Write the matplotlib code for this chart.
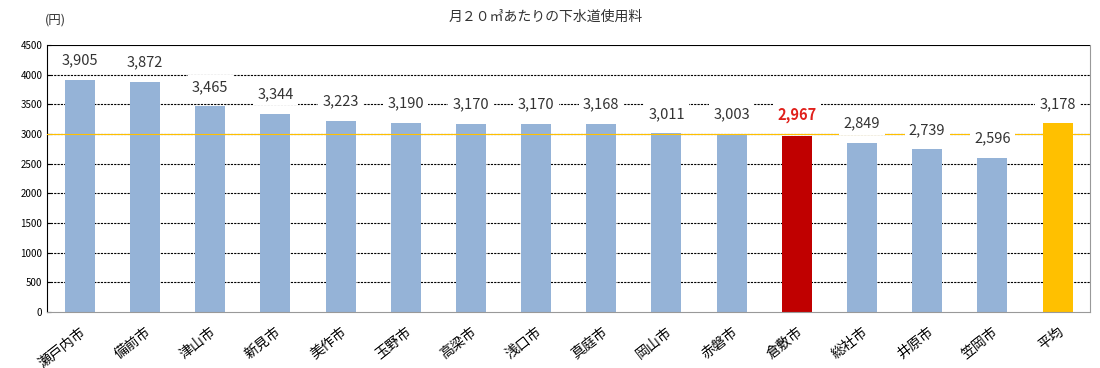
import matplotlib
matplotlib.use("Agg")
import matplotlib.pyplot as plt
from matplotlib.transforms import ScaledTranslation

plt.rcParams['font.family'] = ['Noto Sans CJK JP', 'DejaVu Sans']

cities = ['瀬戸内市', '備前市', '津山市', '新見市', '美作市', '玉野市', '高梁市', '浅口市',
          '真庭市', '岡山市', '赤磐市', '倉敷市', '総社市', '井原市', '笠岡市', '平均']
fees = [3905, 3872, 3465, 3344, 3223, 3190, 3170, 3170, 3168, 3011, 3003, 2967, 2849, 2739, 2596, 3178]
yticks = [0, 500, 1000, 1500, 2000, 2500, 3000, 3500, 4000, 4500]

colors = ['#95B3D7'] * len(cities)
colors[cities.index('倉敷市')] = '#C00000'
colors[cities.index('平均')] = '#FFC000'

fig = plt.figure(figsize=(11, 3.68), dpi=100)
ax = fig.add_axes([0.043, 0.152, 0.948, 0.726])

x = list(range(len(cities)))
ax.bar(x, fees, width=0.46, color=colors, zorder=2)

# dashed gridlines, solid top line
for t in yticks[1:-1]:
    ax.axhline(t, color='black', lw=0.8, ls=(0, (2, 1)), zorder=1)
ax.axhline(4500, color='black', lw=0.8, zorder=1)
ax.axhline(3000, color='#FFC000', lw=0.8, zorder=3)

for i, v in enumerate(fees):
    col = '#E0201B' if cities[i] == '倉敷市' else '#333333'
    fw = 'bold' if cities[i] == '倉敷市' else 'normal'
    ax.annotate(f'{v:,}', (i, v), xytext=(0, 9), textcoords='offset points',
                ha='center', va='bottom', fontsize=10.5, color=col, fontweight=fw,
                bbox=dict(boxstyle='square,pad=0.3', fc='white', ec='none'), zorder=4)

ax.set_xlim(-0.5, len(cities) - 0.5)
ax.set_ylim(0, 4500)
ax.set_yticks(yticks)
ax.set_yticklabels([str(t) for t in yticks], fontsize=7)
ax.set_xticks(x)
ax.set_xticklabels(cities, rotation=38, ha='right', rotation_mode='anchor', fontsize=10)
shift = ScaledTranslation(6 / 100, 0, fig.dpi_scale_trans)
for lbl in ax.get_xticklabels():
    lbl.set_transform(lbl.get_transform() + shift)
ax.tick_params(axis='x', length=0, pad=9)
ax.tick_params(axis='y', length=3, direction='in')

ax.spines['top'].set_visible(False)
ax.spines['left'].set_color('black')
ax.spines['right'].set_color('#999999')
ax.spines['bottom'].set_color('#999999')

fig.text(0.496, 0.955, '月２０㎥あたりの下水道使用料', ha='center', va='center', fontsize=10, color='#333333')
fig.text(0.05, 0.945, '(円)', ha='center', va='center', fontsize=9, color='#333333')

fig.savefig('out.png', dpi=100)
